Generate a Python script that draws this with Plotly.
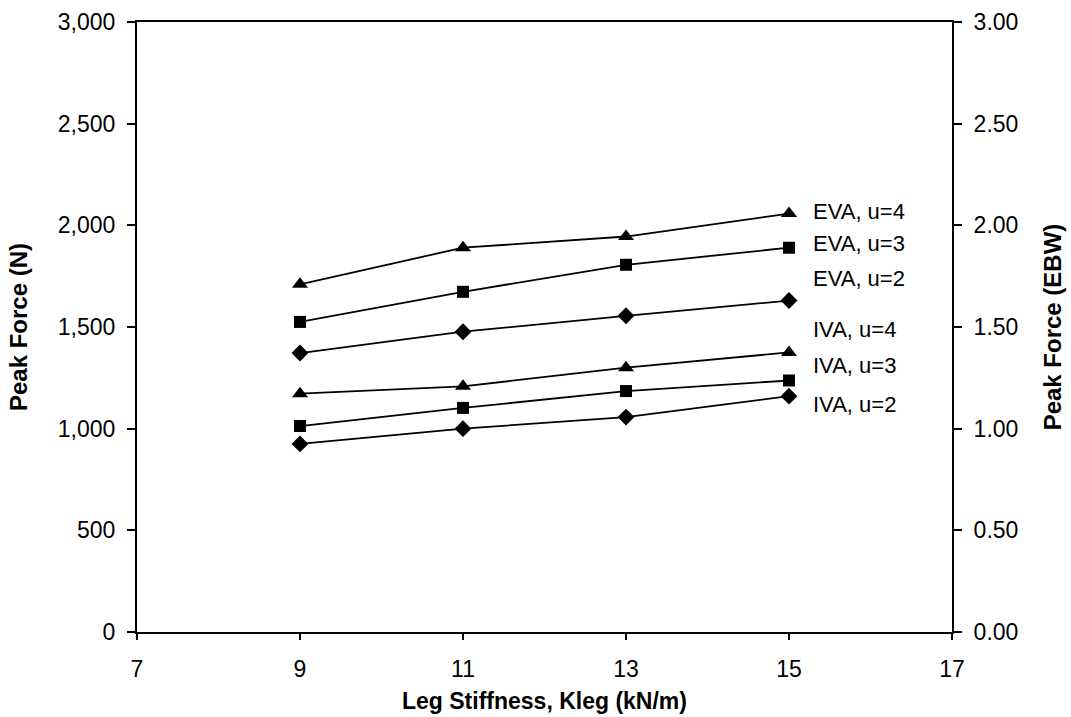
import plotly.graph_objects as go

stiffness = [9, 11, 13, 15]
eva_u4 = [1710, 1890, 1945, 2058]
eva_u3 = [1525, 1673, 1806, 1890]
eva_u2 = [1372, 1477, 1555, 1630]
iva_u4 = [1172, 1208, 1300, 1375]
iva_u3 = [1013, 1102, 1185, 1237]
iva_u2 = [925, 1000, 1057, 1160]

series = [
    ("EVA, u=4", eva_u4, "triangle-up", 14, 2066),
    ("EVA, u=3", eva_u3, "square", 12, 1913),
    ("EVA, u=2", eva_u2, "diamond", 13, 1741),
    ("IVA, u=4", iva_u4, "triangle-up", 14, 1490),
    ("IVA, u=3", iva_u3, "square", 12, 1313),
    ("IVA, u=2", iva_u2, "diamond", 13, 1117),
]

y_ticks = [0, 500, 1000, 1500, 2000, 2500, 3000]
y2_ticks = [0, 0.5, 1.0, 1.5, 2.0, 2.5, 3.0]
x_ticks = [7, 9, 11, 13, 15, 17]

FAM = "Liberation Sans, Arial"
fig = go.Figure()
for name, vals, sym, size, ylab in series:
    fig.add_trace(go.Scatter(
        x=stiffness, y=vals, mode="lines+markers", name=name,
        line=dict(color="black", width=1.8),
        marker=dict(symbol=sym, size=size, color="black"),
        showlegend=False,
    ))
    fig.add_annotation(x=15.27, y=ylab, text=name, showarrow=False,
                       xanchor="left", yanchor="middle",
                       font=dict(family=FAM, size=22, color="black"))

# invisible trace for secondary axis
fig.add_trace(go.Scatter(x=[7], y=[0], yaxis="y2", mode="markers",
                         marker=dict(opacity=0), showlegend=False, hoverinfo="skip"))

font = dict(family=FAM, size=23, color="black")
xtitle_font = dict(family=FAM, size=23, color="black")
ytitle_font = dict(family=FAM, size=24, color="black")

fig.update_layout(
    width=1071, height=717,
    margin=dict(l=137, r=119, t=22, b=85),
    paper_bgcolor="white", plot_bgcolor="white",
    font=font,
    xaxis=dict(range=[7, 17], tickvals=x_ticks, showgrid=False, zeroline=False,
               showline=True, linecolor="black", linewidth=2, mirror=True,
               ticks="outside", ticklen=6, tickcolor="black", tickwidth=1.5,
               ticklabelstandoff=9, automargin=False,
               title=dict(text="<b>Leg Stiffness, Kleg (kN/m)</b>", font=xtitle_font, standoff=12),
               tickfont=font),
    yaxis=dict(range=[0, 3000], tickvals=y_ticks, tickformat=",d", showgrid=False,
               zeroline=False, showline=True, linecolor="black", linewidth=2,
               ticks="outside", ticklen=8, tickcolor="black", tickwidth=1.5,
               ticklabelstandoff=7, automargin=False,
               title=dict(text="<b>Peak Force (N)</b>", font=ytitle_font, standoff=23),
               tickfont=font),
    yaxis2=dict(range=[0, 3], tickvals=y2_ticks, tickformat=".2f", overlaying="y",
                side="right", showgrid=False, zeroline=False, showline=True,
                linecolor="black", linewidth=2, automargin=False,
                ticks="outside", ticklen=8, tickcolor="black", tickwidth=1.5,
                ticklabelstandoff=7,
                title=dict(text="<b>Peak Force (EBW)</b>", font=ytitle_font, standoff=27),
                tickfont=font),
)

fig.write_html("out.html")
